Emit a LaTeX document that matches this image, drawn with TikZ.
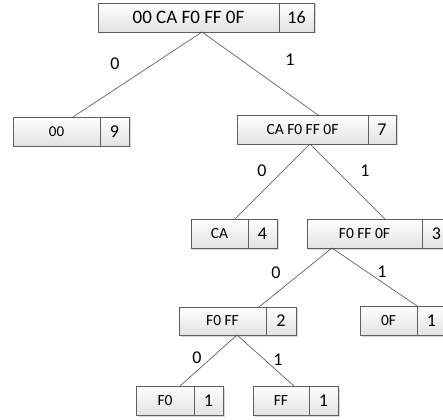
\documentclass[tikz,border=0pt]{standalone}
\usepackage{fontspec}
\setmainfont{Carlito}
\usetikzlibrary{calc}
\definecolor{boxline}{RGB}{95,95,95}
\definecolor{boxbot}{RGB}{226,226,226}
\definecolor{edgec}{RGB}{80,80,80}
\definecolor{shadowc}{RGB}{215,215,215}
\tikzset{
  part/.style={draw=boxline, line width=0.7pt, top color=white, bottom color=boxbot,
    inner sep=0pt, outer sep=0pt, anchor=center, text=black},
  edgeline/.style={draw=edgec, line width=0.6pt},
  lbl/.style={font=\fontsize{18}{18}\selectfont, inner sep=0pt, text=black},
}
% name, L, D, R, T, B, text, number, text size
\newcommand\treebox[9]{%
  \fill[shadowc] ({#2+1.5},{#5+1.5}) rectangle ({#4+1.5},{#6+1.5});
  \node[part, minimum width={#3-#2}, minimum height={#6-#5},
        font=\fontsize{#9}{#9}\selectfont] (#1) at ({(#2+#3)/2},{(#5+#6)/2}) {#7};
  \node[part, minimum width={#4-#3}, minimum height={#6-#5},
        font=\fontsize{18}{18}\selectfont] (#1n) at ({(#3+#4)/2},{(#5+#6)/2}) {#8};
}
\begin{document}
\begin{tikzpicture}[x=1pt, y=-1pt]
\useasboundingbox (0,0) rectangle (443,419);
\clip (0,0) rectangle (443,419);
\fill[white] (0,0) rectangle (443,419);
\treebox{r}{98}{279}{314}{3}{32}{00 CA F0 FF 0F}{16}{19}
\treebox{a}{13}{100}{129}{117}{146}{00}{9}{15}
\treebox{b}{237}{368}{396}{115}{144}{CA F0 FF 0F}{7}{15.5}
\treebox{c}{191}{248}{277}{219}{248}{CA}{4}{15.5}
\treebox{d}{307}{422}{451}{219}{248}{F0 FF 0F}{3}{15.5}
\treebox{e}{179}{266}{296}{307}{335}{F0 FF}{2}{15.5}
\treebox{f}{360}{417}{446}{306}{335}{0F}{1}{15.5}
\treebox{g}{136}{194}{223}{386}{415}{F0}{1}{15.5}
\treebox{h}{253}{309}{338}{386}{415}{FF}{1}{15.5}
% connectors
\draw[edgeline] ([xshift=13.5pt]r.south) -- ([xshift=16.5pt]a.north);
\draw[edgeline] ([xshift=13.5pt]r.south) -- ([xshift=15.5pt]b.north);
\draw[edgeline] ([xshift=7.5pt]b.south) -- ([xshift=15.5pt]c.north);
\draw[edgeline] ([xshift=7.5pt]b.south) -- ([xshift=20.5pt]d.north);
\draw[edgeline] ([xshift=-32.5pt]d.south) -- ([xshift=36.5pt]e.north);
\draw[edgeline] ([xshift=-32.5pt]d.south) -- (f.north east);
\draw[edgeline] ([xshift=14.5pt]e.south) -- ([xshift=15pt]g.north);
\draw[edgeline] ([xshift=14.5pt]e.south) -- ([xshift=13pt]h.north);
% edge labels
\node[lbl] (l1) at (115,64) {0};
\node[lbl] (l2) at (290,60) {1};
\node[lbl] (l3) at (262,171) {0};
\node[lbl] (l4) at (365,171) {1};
\node[lbl] (l5) at (276,273) {0};
\node[lbl] (l6) at (382,272) {1};
\node[lbl] (l7) at (197,358) {0};
\node[lbl] (l8) at (278,360) {1};
\end{tikzpicture}
\end{document}
